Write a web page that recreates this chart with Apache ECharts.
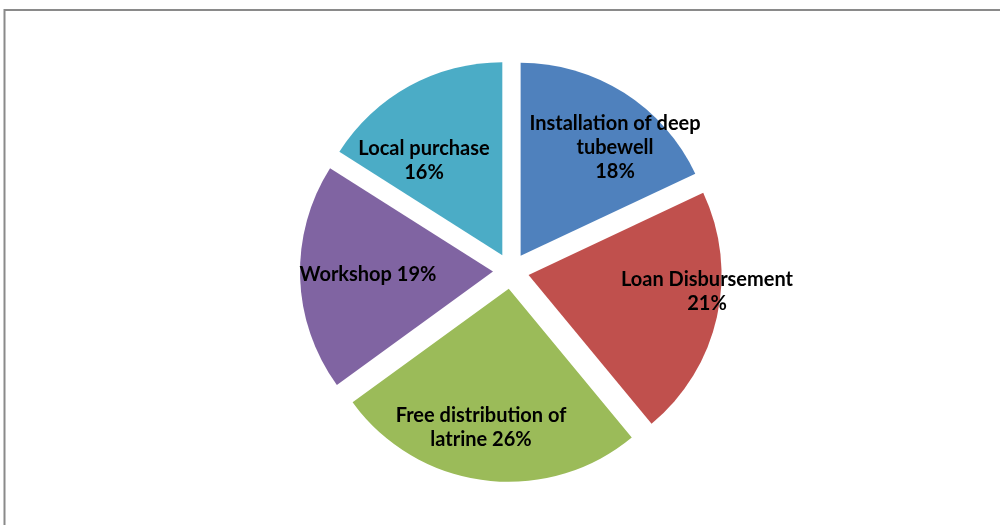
<!DOCTYPE html>
<html>
<head>
<meta charset="utf-8">
<script src="https://cdn.jsdelivr.net/npm/echarts@6/dist/echarts.min.js"></script>
<style>
  html, body { margin: 0; padding: 0; background: #ffffff; }
  #main { width: 1000px; height: 525px; }
</style>
</head>
<body>
<div id="main"></div>
<script>
  // slices, clockwise from 12 o'clock
  const categories = ['Installation of deep\ntubewell', 'Loan Disbursement', 'Free distribution of\nlatrine', 'Workshop', 'Local purchase'];
  const percents = [18, 21, 26, 19, 16];
  // what goes between the name and the percentage in each label
  const labelSep = ['\n', '\n', ' ', ' ', '\n'];
  const colors = ['#4F81BD', '#C0504D', '#9BBB59', '#8064A2', '#4BACC6'];
  // label centres as placed in the original chart
  const labelPos = [[615, 148], [707, 292], [481, 428], [368, 275], [424, 161]];

  const chart = echarts.init(document.getElementById('main'));

  const pieCenter = [511, 271];
  const pieRadius = 193;

  const option = {
    animation: false,
    graphic: [
      {
        type: 'rect',
        shape: { x: 4.5, y: 10, width: 1100, height: 600 },
        style: { fill: 'none', stroke: '#8a8a8a', lineWidth: 2 },
        silent: true
      }
    ],
    series: [
      {
        // exploded slices
        type: 'pie',
        center: pieCenter,
        radius: [0, pieRadius],
        startAngle: 90,
        clockwise: true,
        selectedMode: 'multiple',
        selectedOffset: 18,
        emphasis: { disabled: true },
        label: { show: false },
        labelLine: { show: false },
        data: categories.map((name, i) => ({
          name: name,
          value: percents[i],
          selected: true,
          itemStyle: { color: colors[i] }
        }))
      },
      {
        // same slices again, invisible, only to carry the labels
        type: 'pie',
        center: pieCenter,
        radius: [0, pieRadius],
        startAngle: 90,
        clockwise: true,
        silent: true,
        z: 3,
        selectedMode: false,
        avoidLabelOverlap: false,
        emphasis: { disabled: true },
        itemStyle: { color: 'rgba(0,0,0,0)' },
        labelLine: { show: false },
        label: {
          show: true,
          position: 'inside',
          color: '#000000',
          fontFamily: 'Lato',
          fontWeight: 'bold',
          fontSize: 20,
          lineHeight: 24,
          align: 'center',
          verticalAlign: 'middle',
          formatter: (p) => p.name + labelSep[p.dataIndex] + p.value + '%'
        },
        labelLayout: (p) => ({ x: labelPos[p.dataIndex][0], y: labelPos[p.dataIndex][1] }),
        data: categories.map((name, i) => ({ name: name, value: percents[i] }))
      }
    ]
  };

  chart.setOption(option);
</script>
</body>
</html>
